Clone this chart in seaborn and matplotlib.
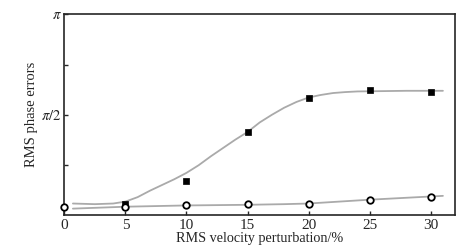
import numpy as np
import seaborn as sns
from matplotlib import pyplot as plt

# measured points
vel = [0, 5, 10, 15, 20, 25, 30]
err_square_x = [5, 10, 15, 20, 25, 30]
err_square = [0.17, 0.53, 1.30, 1.84, 1.95, 1.92]
err_circle = [0.125, 0.125, 0.155, 0.17, 0.17, 0.235, 0.285]

# fitted curves
fit_sq_x = [0.7, 2.5, 4, 5, 6, 7, 8, 9, 10, 11, 12, 13, 14, 15, 16, 17, 18, 19, 20,
            21, 22, 23, 24, 26, 28, 31]
fit_sq_y = [0.18, 0.17, 0.18, 0.21, 0.28, 0.38, 0.47, 0.56, 0.66, 0.78, 0.92, 1.05, 1.18,
            1.30, 1.45, 1.57, 1.68, 1.77, 1.84, 1.88, 1.91, 1.925, 1.935, 1.94, 1.945, 1.945]
fit_ci_x = [0.7, 5, 10, 15, 18, 20, 22.5, 25, 28, 31]
fit_ci_y = [0.10, 0.13, 0.15, 0.16, 0.17, 0.18, 0.21, 0.24, 0.27, 0.30]

sns.set_style("ticks")
plt.rcParams['font.family'] = ['Liberation Serif', 'DejaVu Serif']
plt.rcParams['mathtext.fontset'] = 'stix'

fig = plt.figure(figsize=(4.63, 2.48), dpi=100)
ax = fig.add_axes([0.139, 0.133, 0.844, 0.809])

sns.lineplot(x=fit_sq_x, y=fit_sq_y, ax=ax, color='#aaaaaa', linewidth=1.3, estimator=None)
sns.lineplot(x=fit_ci_x, y=fit_ci_y, ax=ax, color='#aaaaaa', linewidth=1.3, estimator=None)
sns.scatterplot(x=err_square_x, y=err_square, ax=ax, marker='s', s=20, color='black',
                edgecolor='black', linewidth=0.5, zorder=3)
sns.scatterplot(x=vel, y=err_circle, ax=ax, marker='o', s=22, facecolor='white',
                edgecolor='black', linewidth=1.3, zorder=4, clip_on=False)

ax.set_xlim(0, 32)
ax.set_ylim(0, np.pi)
ax.set_xticks([0, 5, 10, 15, 20, 25, 30])
ax.set_yticks([np.pi / 4, np.pi / 2, 3 * np.pi / 4, np.pi])
ax.set_yticklabels(['', r'$\pi/2$', '', r'$\pi$'])
ax.tick_params(direction='in', length=3, width=1, labelsize=11, pad=3)
ax.tick_params(axis='y', labelsize=10.5, pad=2)
for s in ax.spines.values():
    s.set_linewidth(1.2)

ax.set_xlabel("RMS velocity perturbation/%", fontsize=10.2, labelpad=0)
ax.set_ylabel("RMS phase errors", fontsize=10.5)
ax.yaxis.set_label_coords(-0.068, 0.5)

plt.savefig("out.png", dpi=100)
